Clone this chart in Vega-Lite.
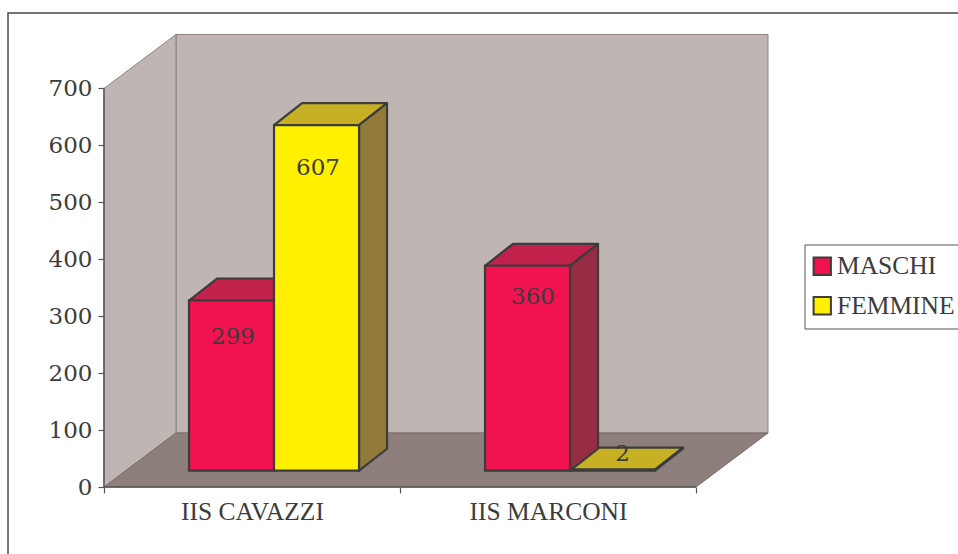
{
"$schema":"https://vega.github.io/schema/vega-lite/v6.json",
"width":665,"height":453,"autosize":{"type":"none"},
"padding":{"left":104,"top":34,"right":189,"bottom":67},
"background":"white",
"config":{"view":{"stroke":null},"font":"Liberation Serif"},
"resolve":{"axis":{"x":"independent","y":"independent"}},
"layer":[
{"data":{"values":[{"part":"frame"}]},
 "mark":{"type":"rect","fill":"transparent","stroke":"#4a4a4a","strokeWidth":1.5},
 "encoding":{
  "x":{"datum":-0.3243,"type":"quantitative","scale":{"domain":[0,2.2466],"zero":false,"nice":false},
   "axis":{"values":[0,0.5,1,1.5,2],"title":null,"grid":false,"domain":false,"labelFont":"Liberation Serif","labelFontSize":25.5,"labelColor":"#3c3c3c","labelPadding":12,"labelOverlap":false,"labelFlush":false,"tickColor":"#555555","tickWidth":1.2,"tickSize":{"condition":{"test":"datum.value % 1 === 0","value":6},"value":0},"labelExpr":"datum.value === 0.5 ? 'IIS CAVAZZI' : datum.value === 1.5 ? 'IIS MARCONI' : ''"}},
  "x2":{"datum":3.0},
  "y":{"datum":832.6,"type":"quantitative","scale":{"domain":[0,795.7],"zero":false,"nice":false},
   "axis":{"values":[0,100,200,300,400,500,600,700],"title":null,"grid":false,"domain":false,"labelFont":"DejaVu Serif","labelFontSize":23,"labelColor":"#3c3c3c","labelPadding":6,"tickColor":"#555555","tickWidth":1.2,"tickSize":6}},
  "y2":{"datum":-150}
 }},
{"data":{"values":[{"part":"back wall"}]},
 "mark":{"type":"rect","fill":"#bfb5b3","stroke":"#8f827d","strokeWidth":1},
 "encoding":{"x":{"datum":0.2432,"type":"quantitative","axis":null},"x2":{"datum":2.2432},"y":{"datum":94.85,"type":"quantitative","axis":null},"y2":{"datum":794.85}}},
{"data":{"values":[{"t":0},{"t":1}]},
 "transform":[{"calculate":"datum.t*0.2432","as":"wx"},{"calculate":"datum.t*94.85","as":"wy"},{"calculate":"700+datum.t*94.85","as":"wy2"}],
 "mark":{"type":"area","orient":"vertical","fill":"#bfb5b3","stroke":"#8f827d","strokeWidth":1,"opacity":1},
 "encoding":{"x":{"field":"wx","type":"quantitative","axis":null},"y":{"field":"wy2","type":"quantitative","axis":null},"y2":{"field":"wy"}}},
{"data":{"values":[{"t":0},{"t":1}]},
 "transform":[{"calculate":"datum.t*0.2432","as":"wx"},{"calculate":"2+datum.t*0.2432","as":"wx2"},{"calculate":"datum.t*94.85","as":"wy"}],
 "mark":{"type":"area","orient":"horizontal","fill":"#8d7f7b","stroke":"#7a6d69","strokeWidth":1,"opacity":1},
 "encoding":{"y":{"field":"wy","type":"quantitative","axis":null},"x":{"field":"wx","type":"quantitative","axis":null},"x2":{"field":"wx2"}}},
{"data":{"values":[{"part":"y axis"}]},
 "mark":{"type":"rule","stroke":"#555555","strokeWidth":1.5},
 "encoding":{"x":{"datum":0,"type":"quantitative","axis":null},"y":{"datum":0,"type":"quantitative","axis":null},"y2":{"datum":700}}},
{"data":{"values":[{"part":"x axis"}]},
 "mark":{"type":"rule","stroke":"#555555","strokeWidth":1.5},
 "encoding":{"y":{"datum":0,"type":"quantitative","axis":null},"x":{"datum":0,"type":"quantitative","axis":null},"x2":{"datum":2}}},
{"data":{"values":[
 {"school":"IIS CAVAZZI","sex":"MASCHI","value":299},
 {"school":"IIS CAVAZZI","sex":"FEMMINE","value":607},
 {"school":"IIS MARCONI","sex":"MASCHI","value":360},
 {"school":"IIS MARCONI","sex":"FEMMINE","value":2}]},
 "transform":[
  {"calculate":"datum.school === 'IIS CAVAZZI' ? 0 : 1","as":"i"},
  {"calculate":"datum.sex === 'MASCHI' ? 0 : 1","as":"g"},
  {"calculate":"datum.i + 0.2872*(1+datum.g)","as":"x0"},
  {"calculate":"datum.x0 + 0.2872","as":"x1"},
  {"calculate":"28.6","as":"yb"},
  {"calculate":"28.6 + datum.value","as":"yt"}
 ],
 "layer":[
  {"transform":[{"calculate":"[0,1]","as":"t"},{"flatten":["t"]},
    {"calculate":"datum.x0+datum.t*0.0946","as":"ax"},{"calculate":"datum.x1+datum.t*0.0946","as":"ax2"},{"calculate":"datum.yt+datum.t*38.6","as":"ay"}],
   "mark":{"type":"area","orient":"horizontal","stroke":"#3c3c3c","strokeWidth":2.2,"strokeJoin":"round","opacity":1},
   "encoding":{"y":{"field":"ay","type":"quantitative","axis":null},"x":{"field":"ax","type":"quantitative","axis":null},"x2":{"field":"ax2"},
    "detail":{"field":"x0"},
    "fill":{"condition":{"test":"datum.sex === 'MASCHI'","value":"#c1214a"},"value":"#c8b025"}}},
  {"transform":[{"calculate":"[0,1]","as":"t"},{"flatten":["t"]},
    {"calculate":"datum.x1+datum.t*0.0946","as":"ax"},{"calculate":"datum.yt+datum.t*38.6","as":"ay"},{"calculate":"datum.yb+datum.t*38.6","as":"ay2"}],
   "mark":{"type":"area","orient":"vertical","stroke":"#3c3c3c","strokeWidth":2.2,"strokeJoin":"round","opacity":1},
   "encoding":{"x":{"field":"ax","type":"quantitative","axis":null},"y":{"field":"ay","type":"quantitative","axis":null},"y2":{"field":"ay2"},
    "detail":{"field":"x0"},
    "fill":{"condition":{"test":"datum.sex === 'MASCHI'","value":"#962d45"},"value":"#927b38"}}},
  {"mark":{"type":"rect","stroke":"#3c3c3c","strokeWidth":2.2,"opacity":1},
   "encoding":{"x":{"field":"x0","type":"quantitative","axis":null},"x2":{"field":"x1"},"y":{"field":"yt","type":"quantitative","axis":null},"y2":{"field":"yb"},
    "fill":{"field":"sex","type":"nominal","scale":{"domain":["MASCHI","FEMMINE"],"range":["#f0134f","#fff000"]},
     "legend":{"title":null,"orient":"none","legendX":700.5,"legendY":210.5,"padding":9,"strokeColor":"#555555","fillColor":"white","labelFont":"Liberation Serif","labelFontSize":25.5,"labelColor":"#3c3c3c","labelOffset":2,"symbolOffset":-4,"rowPadding":12.5,"symbolType":"square","symbolSize":300,"symbolStrokeColor":"#3c3c3c","symbolStrokeWidth":2,"symbolOpacity":1,"labelLimit":300}}}},
  {"transform":[
    {"calculate":"(datum.x0+datum.x1)/2 + ({'299':1.5,'607':1.5,'360':5.5,'2':10})[datum.value]/296","as":"lx"},
    {"calculate":"({'299':263.5,'607':560.3,'360':333.7,'2':58})[datum.value]","as":"ly"}],
   "mark":{"type":"text","font":"DejaVu Serif","fontSize":23,"color":"#3c3c3c","baseline":"middle","align":"center"},
   "encoding":{"x":{"field":"lx","type":"quantitative","axis":null},"y":{"field":"ly","type":"quantitative","axis":null},"text":{"field":"value","type":"quantitative"}}}
 ]}
]
}
